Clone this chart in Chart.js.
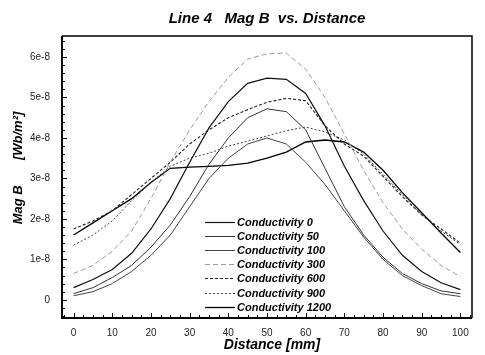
<!DOCTYPE html>
<html>
<head>
<meta charset="utf-8">
<script src="https://cdn.jsdelivr.net/npm/chart.js@4/dist/chart.umd.min.js"></script>
<style>
  html, body { margin: 0; padding: 0; background: #fff; }
  canvas { display: block; }
</style>
</head>
<body>
<canvas id="c" width="485" height="355"></canvas>
<script>
// ---- Data (Mag B values in units of 1e-8 Wb/m^2) ----
const distance = [0,5,10,15,20,25,30,35,40,45,50,55,60,65,70,75,80,85,90,95,100];
const seriesLabels = ['Conductivity 0','Conductivity 50','Conductivity 100','Conductivity 300','Conductivity 600','Conductivity 900','Conductivity 1200'];
const cond0    = [0.30,0.50,0.75,1.15,1.75,2.50,3.40,4.25,4.90,5.35,5.48,5.45,5.10,4.30,3.30,2.45,1.70,1.10,0.70,0.42,0.25];
const cond50   = [0.15,0.30,0.55,0.85,1.30,1.85,2.55,3.35,4.00,4.50,4.72,4.65,4.20,3.25,2.30,1.60,1.05,0.65,0.40,0.22,0.15];
const cond100  = [0.10,0.20,0.40,0.70,1.10,1.60,2.30,3.00,3.50,3.85,4.00,3.85,3.40,2.85,2.20,1.55,1.00,0.60,0.35,0.15,0.08];
const cond300  = [0.65,0.85,1.20,1.70,2.50,3.40,4.20,4.90,5.50,5.95,6.08,6.10,5.70,5.00,4.10,3.20,2.40,1.75,1.25,0.85,0.57];
const cond600  = [1.75,1.95,2.20,2.60,3.00,3.40,3.85,4.20,4.50,4.70,4.88,4.98,4.92,4.30,3.85,3.55,3.05,2.55,2.10,1.75,1.40];
const cond900  = [1.35,1.60,1.95,2.45,2.90,3.30,3.50,3.62,3.80,3.92,4.05,4.18,4.27,4.15,3.95,3.60,3.10,2.60,2.10,1.70,1.36];
const cond1200 = [1.60,1.90,2.20,2.50,2.90,3.25,3.28,3.30,3.32,3.38,3.50,3.65,3.90,3.95,3.90,3.65,3.20,2.65,2.15,1.65,1.17];
const xTickLabels = [0,10,20,30,40,50,60,70,80,90,100];
const yTickValues = [0,1,2,3,4,5,6];

const seriesValues = [cond0, cond50, cond100, cond300, cond600, cond900, cond1200];
const styles = [
  { color: '#111', dash: [], width: 1.2 },
  { color: '#333', dash: [], width: 1.0 },
  { color: '#444', dash: [], width: 1.0 },
  { color: '#9a9a9a', dash: [5,3], width: 1.0 },
  { color: '#222', dash: [3,2], width: 1.1 },
  { color: '#444', dash: [2,2], width: 1.0 },
  { color: '#000', dash: [], width: 1.3 }
];

const datasets = seriesValues.map((vals, i) => ({
  label: seriesLabels[i],
  data: distance.map((d, j) => ({ x: d, y: vals[j] })),
  borderColor: styles[i].color,
  borderDash: styles[i].dash,
  borderWidth: styles[i].width,
  pointRadius: 0,
  tension: 0,
  fill: false
}));

const FONT = '"Liberation Sans", Arial, sans-serif';

const decor = {
  id: 'decor',
  afterDraw(chart) {
    const ctx = chart.ctx;
    const a = chart.chartArea;
    const xs = chart.scales.x, ys = chart.scales.y;
    ctx.save();
    // frame
    ctx.strokeStyle = '#000';
    ctx.lineWidth = 2;
    ctx.beginPath();
    ctx.moveTo(a.left, a.top); ctx.lineTo(a.left, a.bottom); ctx.lineTo(a.right, a.bottom);
    ctx.stroke();
    ctx.lineWidth = 1.5;
    ctx.beginPath();
    ctx.moveTo(a.left, a.top); ctx.lineTo(a.right, a.top); ctx.lineTo(a.right, a.bottom);
    ctx.stroke();
    // ticks
    ctx.lineWidth = 1;
    ctx.beginPath();
    for (let v = -2.5; v <= 102.5; v += 2.5) {
      const px = Math.round(xs.getPixelForValue(v)) + 0.5;
      if (px < a.left || px > a.right) continue;
      const len = (Math.abs(v % 10) < 1e-6) ? 5 : 3;
      ctx.moveTo(px, a.bottom); ctx.lineTo(px, a.bottom - len);
    }
    for (let v = -0.4; v <= 6.5; v += 0.2) {
      const py = Math.round(ys.getPixelForValue(v)) + 0.5;
      if (py < a.top || py > a.bottom) continue;
      const r = Math.round(v * 10) / 10;
      const len = (Math.abs(r - Math.round(r)) < 1e-6) ? 5 : 3;
      ctx.moveTo(a.left, py); ctx.lineTo(a.left + len, py);
    }
    ctx.stroke();
    // titles
    ctx.fillStyle = '#000';
    ctx.textAlign = 'center';
    ctx.textBaseline = 'middle';
    ctx.font = 'italic bold 15px ' + FONT;
    ctx.fillText('Line 4   Mag B  vs. Distance', 267, 19);
    ctx.font = 'italic bold 14px ' + FONT;
    ctx.fillText('Distance [mm]', 272, 345);
    ctx.save();
    ctx.translate(18, 168);
    ctx.rotate(-Math.PI / 2);
    ctx.font = 'italic bold 13px ' + FONT;
    ctx.fillText('Mag B       [Wb/m\u00B2]', 0, 0);
    ctx.restore();
    // legend
    ctx.font = 'italic bold 11px ' + FONT;
    ctx.textAlign = 'left';
    chart.data.datasets.forEach((ds, i) => {
      const y = Math.round(221.5 + i * 14.2) + 0.5;
      ctx.strokeStyle = ds.borderColor;
      ctx.lineWidth = ds.borderWidth;
      ctx.setLineDash(ds.borderDash);
      ctx.beginPath();
      ctx.moveTo(205, y); ctx.lineTo(235, y);
      ctx.stroke();
      ctx.setLineDash([]);
      ctx.fillStyle = '#000';
      ctx.fillText(ds.label, 237, y);
    });
    ctx.restore();
  }
};

new Chart(document.getElementById('c'), {
  type: 'line',
  data: { datasets },
  options: {
    responsive: false,
    devicePixelRatio: 1,
    animation: false,
    layout: { padding: { left: 0, right: 13, top: 36, bottom: 0 } },
    plugins: { legend: { display: false }, title: { display: false }, tooltip: { enabled: false } },
    scales: {
      x: {
        type: 'linear',
        min: -3, max: 103,
        afterBuildTicks: s => { s.ticks = xTickLabels.map(v => ({ value: v })); },
        afterFit: s => { s.height = 37; },
        grid: { display: false, drawTicks: false },
        border: { display: false },
        ticks: { padding: 9, color: '#222', font: { family: FONT, size: 10 }, maxRotation: 0, autoSkip: false }
      },
      y: {
        type: 'linear',
        min: -0.45, max: 6.52,
        afterBuildTicks: s => { s.ticks = yTickValues.map(v => ({ value: v })); },
        afterFit: s => { s.width = 62; },
        grid: { display: false, drawTicks: false },
        border: { display: false },
        ticks: {
          padding: 12, color: '#222', font: { family: FONT, size: 10 },
          callback: v => v === 0 ? '0' : v + 'e-8'
        }
      }
    }
  },
  plugins: [decor]
});
</script>
</body>
</html>
